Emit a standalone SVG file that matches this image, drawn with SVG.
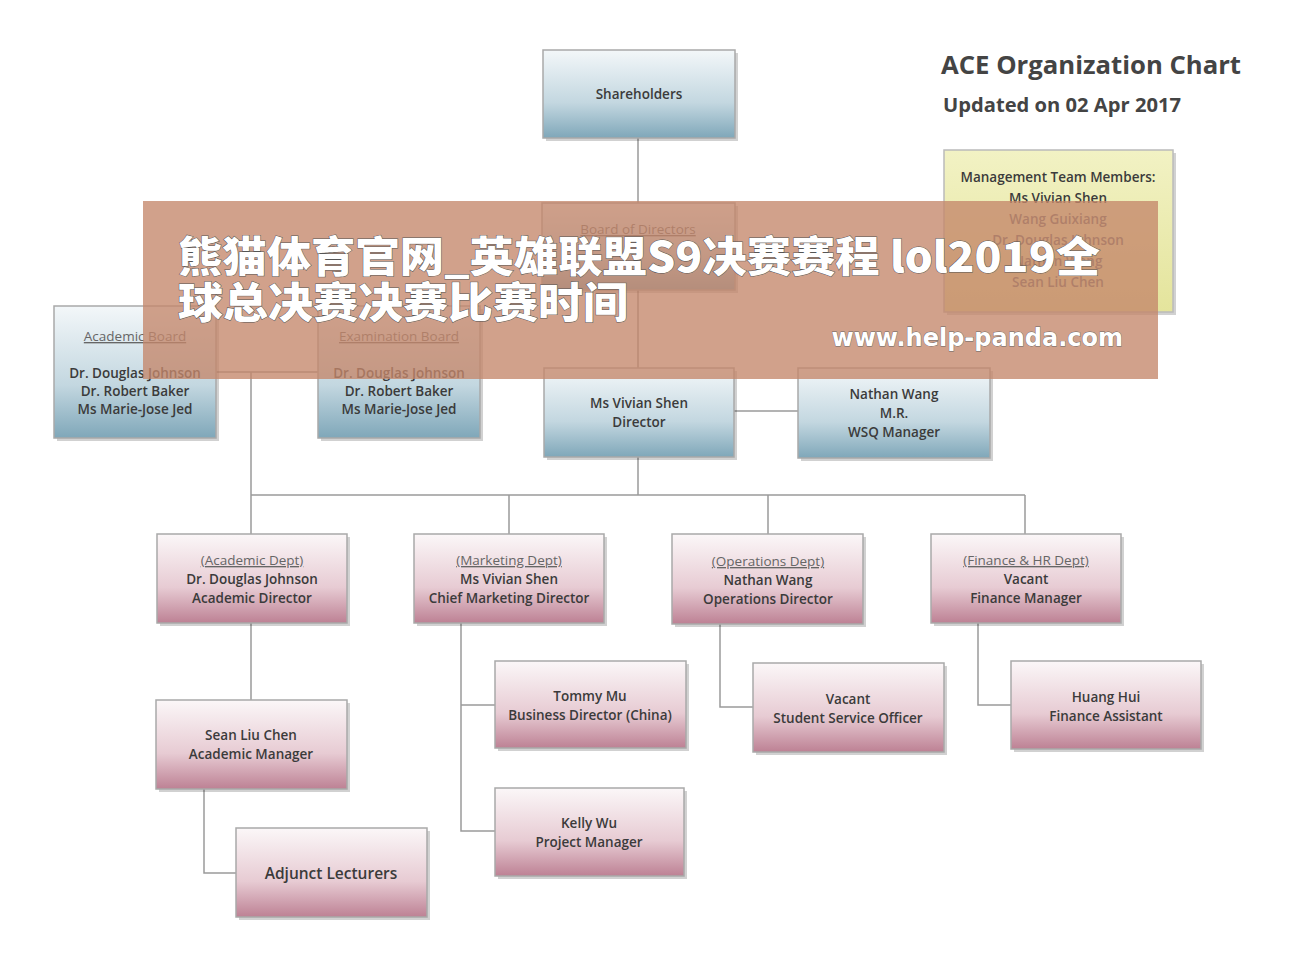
<svg xmlns="http://www.w3.org/2000/svg" width="1301" height="961" viewBox="0 0 1301 961">
<style>
.t{font-family:"Open Sans","Liberation Sans",sans-serif;font-size:13.5px;font-weight:600;fill:#3b3b3b;text-anchor:middle}
.u{font-weight:400;fill:#666;text-decoration:underline}
.b rect.f{fill:url(#gb);stroke:#a9a9a9;stroke-width:1.5}
.p rect.f{fill:url(#gp);stroke:#a9a9a9;stroke-width:1.5}
rect.s{fill:#000;opacity:.18}
.c line,.c polyline{stroke:#9a9a9a;stroke-width:1.5;fill:none}
.w{font-family:"Noto Sans CJK SC",sans-serif;font-weight:900;font-size:42px;fill:#fff;stroke:#555;stroke-width:1;paint-order:stroke}
</style>
<defs>
<linearGradient id="gb" x1="0" y1="0" x2="0" y2="1"><stop offset="0" stop-color="#f3f7f9"/><stop offset=".6" stop-color="#c3d7e0"/><stop offset="1" stop-color="#7fa7b9"/></linearGradient>
<linearGradient id="gp" x1="0" y1="0" x2="0" y2="1"><stop offset="0" stop-color="#fbf7f8"/><stop offset=".6" stop-color="#e7cbd3"/><stop offset="1" stop-color="#bd8194"/></linearGradient>
<linearGradient id="gy" x1="0" y1="0" x2="0" y2="1"><stop offset="0" stop-color="#f2f2c4"/><stop offset="1" stop-color="#e4e49c"/></linearGradient>
</defs>
<rect width="1301" height="961" fill="#fff"/>
<g class="c">
<line x1="638" y1="138" x2="638" y2="495"/>
<polyline points="216,372 318,372"/>
<line x1="251" y1="372" x2="251" y2="534"/>
<line x1="251" y1="495" x2="1025" y2="495"/>
<line x1="509" y1="495" x2="509" y2="534"/>
<line x1="768" y1="495" x2="768" y2="534"/>
<line x1="1025" y1="495" x2="1025" y2="534"/>
<line x1="734" y1="411" x2="798" y2="411"/>
<line x1="251" y1="623" x2="251" y2="700"/>
<polyline points="204,789 204,873 236,873"/>
<polyline points="461,623 461,831 495,831"/>
<line x1="461" y1="705" x2="495" y2="705"/>
<polyline points="720,624 720,707 753,707"/>
<polyline points="978,623 978,705 1011,705"/>
</g>
<g id="shareholders" class="b"><rect class="s" x="546" y="53" width="192" height="88"/><rect class="f" x="543" y="50" width="192" height="88"/><text class="t" x="639" y="99">Shareholders</text></g>
<g id="board" class="b"><rect class="s" x="545" y="206" width="193" height="87"/><rect class="f" x="542" y="203" width="193" height="87"/><text class="t u" x="638" y="234">Board of Directors</text></g>
<g id="acadboard" class="b"><rect class="s" x="57" y="309" width="162" height="132"/><rect class="f" x="54" y="306" width="162" height="132"/><text class="t u" x="135" y="341">Academic Board</text><text class="t" x="135" y="378">Dr. Douglas Johnson</text><text class="t" x="135" y="396">Dr. Robert Baker</text><text class="t" x="135" y="414">Ms Marie-Jose Jed</text></g>
<g id="exboard" class="b"><rect class="s" x="321" y="309" width="162" height="132"/><rect class="f" x="318" y="306" width="162" height="132"/><text class="t u" x="399" y="341">Examination Board</text><text class="t" x="399" y="378">Dr. Douglas Johnson</text><text class="t" x="399" y="396">Dr. Robert Baker</text><text class="t" x="399" y="414">Ms Marie-Jose Jed</text></g>
<g id="director" class="b"><rect class="s" x="547" y="371" width="190" height="89"/><rect class="f" x="544" y="368" width="190" height="89"/><text class="t" x="639" y="408">Ms Vivian Shen</text><text class="t" x="639" y="427">Director</text></g>
<g id="nathan" class="b"><rect class="s" x="801" y="371" width="192" height="90"/><rect class="f" x="798" y="368" width="192" height="90"/><text class="t" x="894" y="399">Nathan Wang</text><text class="t" x="894" y="418">M.R.</text><text class="t" x="894" y="437">WSQ Manager</text></g>
<g id="mgmt"><rect class="s" x="947" y="153" width="229" height="162"/><rect x="944" y="150" width="229" height="162" fill="url(#gy)" stroke="#bbb" stroke-width="1.5"/><text class="t" x="1058" y="182">Management Team Members:</text><text class="t" x="1058" y="203">Ms Vivian Shen</text><text class="t" x="1058" y="224" style="fill:#666">Wang Guixiang</text><text class="t" x="1058" y="245" style="fill:#666">Dr. Douglas Johnson</text><text class="t" x="1058" y="266" style="fill:#666">Nathan Wang</text><text class="t" x="1058" y="287" style="fill:#666">Sean Liu Chen</text></g>
<g id="acad" class="p"><rect class="s" x="160" y="537" width="190" height="89"/><rect class="f" x="157" y="534" width="190" height="89"/><text class="t u" x="252" y="565">(Academic Dept)</text><text class="t" x="252" y="584">Dr. Douglas Johnson</text><text class="t" x="252" y="603">Academic Director</text></g>
<g id="mkt" class="p"><rect class="s" x="417" y="537" width="190" height="89"/><rect class="f" x="414" y="534" width="190" height="89"/><text class="t u" x="509" y="565">(Marketing Dept)</text><text class="t" x="509" y="584">Ms Vivian Shen</text><text class="t" x="509" y="603">Chief Marketing Director</text></g>
<g id="ops" class="p"><rect class="s" x="675" y="537" width="191" height="90"/><rect class="f" x="672" y="534" width="191" height="90"/><text class="t u" x="768" y="566">(Operations Dept)</text><text class="t" x="768" y="585">Nathan Wang</text><text class="t" x="768" y="604">Operations Director</text></g>
<g id="fin" class="p"><rect class="s" x="934" y="537" width="190" height="89"/><rect class="f" x="931" y="534" width="190" height="89"/><text class="t u" x="1026" y="565">(Finance &amp; HR Dept)</text><text class="t" x="1026" y="584">Vacant</text><text class="t" x="1026" y="603">Finance Manager</text></g>
<g id="tommy" class="p"><rect class="s" x="498" y="664" width="191" height="87"/><rect class="f" x="495" y="661" width="191" height="87"/><text class="t" x="590" y="701">Tommy Mu</text><text class="t" x="590" y="720">Business Director (China)</text></g>
<g id="sso" class="p"><rect class="s" x="756" y="666" width="191" height="89"/><rect class="f" x="753" y="663" width="191" height="89"/><text class="t" x="848" y="704">Vacant</text><text class="t" x="848" y="723">Student Service Officer</text></g>
<g id="huang" class="p"><rect class="s" x="1014" y="664" width="190" height="88"/><rect class="f" x="1011" y="661" width="190" height="88"/><text class="t" x="1106" y="702">Huang Hui</text><text class="t" x="1106" y="721">Finance Assistant</text></g>
<g id="sean" class="p"><rect class="s" x="159" y="703" width="191" height="89"/><rect class="f" x="156" y="700" width="191" height="89"/><text class="t" x="251" y="740">Sean Liu Chen</text><text class="t" x="251" y="759">Academic Manager</text></g>
<g id="kelly" class="p"><rect class="s" x="498" y="791" width="189" height="88"/><rect class="f" x="495" y="788" width="189" height="88"/><text class="t" x="589" y="828">Kelly Wu</text><text class="t" x="589" y="847">Project Manager</text></g>
<g id="adjunct" class="p"><rect class="s" x="239" y="831" width="191" height="89"/><rect class="f" x="236" y="828" width="191" height="89"/><text class="t" x="331" y="879" style="font-size:15.5px">Adjunct Lecturers</text></g>
<text x="941" y="74" textLength="300" lengthAdjust="spacingAndGlyphs" style="font-family:'Open Sans','Liberation Sans',sans-serif;font-size:25px;font-weight:700;fill:#444">ACE Organization Chart</text>
<text x="943" y="112" textLength="238" lengthAdjust="spacingAndGlyphs" style="font-family:'Open Sans','Liberation Sans',sans-serif;font-size:19px;font-weight:700;fill:#444">Updated on 02 Apr 2017</text>
<rect x="143" y="201" width="1015" height="178" fill="#c4876a" opacity=".78"/>
<text class="w" x="178" y="272" textLength="922" lengthAdjust="spacingAndGlyphs">熊猫体育官网_英雄联盟S9决赛赛程 lol2019全</text>
<text class="w" x="178" y="318" textLength="450" lengthAdjust="spacingAndGlyphs">球总决赛决赛比赛时间</text>
<text x="1123" y="346" text-anchor="end" style="font-family:'DejaVu Sans',sans-serif;font-size:24px;font-weight:700;fill:#fff;stroke:#666;stroke-width:.8;paint-order:stroke">www.help-panda.com</text>
</svg>
